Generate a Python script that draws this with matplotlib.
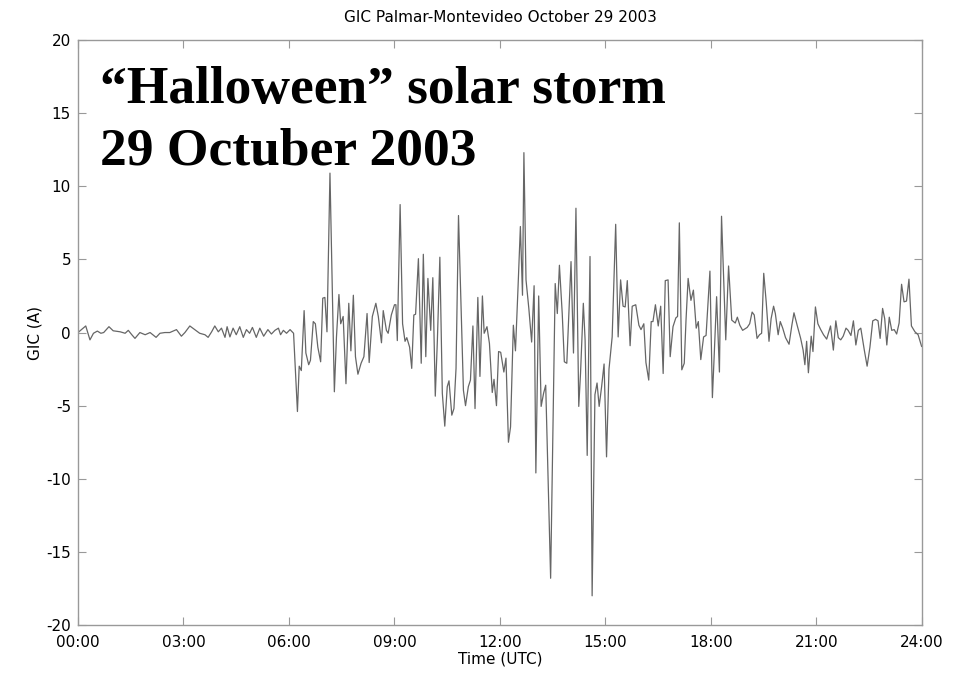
import matplotlib
matplotlib.use('Agg')
import matplotlib.pyplot as plt
from matplotlib.ticker import FuncFormatter

# Время (часы UTC) и ток GIC (А)
quiet_hours = [0.0, 0.22, 0.34, 0.44, 0.55, 0.65, 0.73, 0.88, 1.0, 1.2,
               1.34, 1.43, 1.53, 1.62, 1.76, 1.91, 2.05, 2.22, 2.33, 2.47,
               2.61, 2.8, 2.94, 3.04, 3.18, 3.32, 3.46, 3.61, 3.7, 3.8,
               3.89, 3.99, 4.08, 4.18, 4.24, 4.32, 4.41, 4.5, 4.6, 4.7,
               4.79, 4.88, 4.96, 5.07, 5.17, 5.28, 5.4, 5.5, 5.6, 5.7,
               5.76, 5.84, 5.93, 6.03, 6.13]
quiet_gic = [0.0, 0.45, -0.5, -0.05, 0.1, -0.05, 0.0, 0.4, 0.12, 0.05,
             -0.05, 0.15, -0.15, -0.4, 0.0, -0.15, 0.0, -0.33, -0.05, 0.0,
             0.0, 0.2, -0.25, 0.0, 0.45, 0.2, -0.05, -0.15, -0.33, 0.05,
             0.45, 0.05, 0.3, -0.33, 0.4, -0.3, 0.3, -0.15, 0.4, -0.33,
             0.2, -0.05, 0.35, -0.33, 0.3, -0.25, 0.2, -0.1, 0.15, 0.3,
             -0.15, 0.15, -0.05, 0.2, -0.05]

storm_hours = [6.24, 6.29, 6.35, 6.43, 6.48, 6.56, 6.61, 6.69, 6.75, 6.82,
               6.9, 6.96, 7.02, 7.08, 7.165, 7.29, 7.35, 7.42, 7.47, 7.54,
               7.62, 7.7, 7.76, 7.83, 7.89, 7.96, 8.05, 8.13, 8.22, 8.28,
               8.37, 8.47, 8.54, 8.63, 8.68, 8.77, 8.82, 8.91, 9.0, 9.04,
               9.08, 9.16, 9.23, 9.3, 9.35, 9.43, 9.49, 9.55, 9.6, 9.68,
               9.76, 9.82, 9.89, 9.95, 10.03, 10.09, 10.16, 10.22, 10.29, 10.36,
               10.43, 10.5, 10.55, 10.63, 10.69, 10.75, 10.82, 10.96, 11.02, 11.1,
               11.16, 11.23, 11.29, 11.37, 11.43, 11.5, 11.55, 11.63, 11.7, 11.78,
               11.83, 11.9, 11.96, 12.02, 12.11, 12.17, 12.24, 12.3, 12.38, 12.44,
               12.51, 12.58, 12.64, 12.68, 12.74, 12.82, 12.9, 12.97, 13.02, 13.1,
               13.17, 13.24, 13.3, 13.44, 13.57, 13.63, 13.69, 13.77, 13.83, 13.9,
               14.02, 14.09, 14.16, 14.24, 14.29, 14.37, 14.42, 14.48, 14.56, 14.62,
               14.7, 14.76, 14.82, 14.89, 14.96, 15.03, 15.1, 15.19, 15.29, 15.36,
               15.43, 15.5, 15.56, 15.62, 15.7, 15.76, 15.86, 15.95, 16.01, 16.09,
               16.15, 16.23, 16.3, 16.35, 16.42, 16.5, 16.57, 16.64, 16.7, 16.78,
               16.84, 16.92, 17.0, 17.05, 17.1, 17.17, 17.24, 17.29, 17.35, 17.43,
               17.5, 17.58, 17.64, 17.71, 17.79, 17.86, 17.97, 18.04, 18.09, 18.16,
               18.24, 18.3, 18.42, 18.5]
storm_gic = [-5.4, -2.3, -2.6, 1.5, -1.4, -2.2, -1.9, 0.75, 0.6, -1.0,
             -2.0, 2.35, 2.4, 0.05, 10.9, -4.05, -0.3, 2.6, 0.6, 1.1,
             -3.5, 2.0, -1.25, 2.55, -1.65, -2.85, -2.1, -1.65, 1.3, -2.05,
             1.1, 2.0, 1.1, -0.7, 1.5, 0.15, -0.05, 1.2, 1.9, 1.9,
             -0.55, 8.75, 0.6, -0.6, -0.35, -1.0, -2.45, 1.2, 1.25, 5.05,
             -2.1, 5.35, -1.65, 3.7, 0.15, 3.75, -4.35, -0.5, 5.15, -4.15,
             -6.4, -3.7, -3.3, -5.65, -5.2, -2.45, 8.0, -3.95, -5.0, -3.7,
             -3.25, 0.45, -5.2, 2.4, -3.0, 2.5, -0.05, 0.4, -0.75, -4.1,
             -3.2, -5.0, -1.3, -1.35, -2.7, -1.75, -7.5, -6.45, 0.5, -1.25,
             2.9, 7.25, 2.55, 12.3, 3.6, 1.65, -0.65, 3.2, -9.6, 2.5,
             -5.05, -4.15, -3.6, -16.8, 3.35, 1.3, 4.6, 1.3, -2.0, -2.1,
             4.85, -1.4, 8.5, -5.05, -2.8, 2.0, -0.5, -8.4, 5.2, -18.0,
             -4.25, -3.45, -5.05, -3.7, -2.15, -8.5, -2.5, -0.3, 7.4, -0.3,
             3.6, 1.8, 1.75, 3.55, -0.9, 1.8, 1.9, 0.5, 0.2, 0.6,
             -2.05, -3.25, 0.75, 0.75, 1.9, 0.45, 1.8, -2.8, 3.55, 3.6,
             -1.65, 0.4, 1.0, 1.1, 7.5, -2.55, -2.1, 0.85, 3.7, 2.2,
             2.9, 0.3, 0.75, -1.85, -0.3, -0.2, 4.2, -4.45, -1.65, 2.45,
             -2.7, 7.95, -0.5, 4.55]

late_hours = [18.59, 18.69, 18.75, 18.82, 18.9, 19.03, 19.1, 19.17, 19.23, 19.31,
              19.38, 19.44, 19.5, 19.57, 19.65, 19.71, 19.78, 19.83, 19.91, 19.97,
              20.04, 20.12, 20.22, 20.3, 20.36, 20.45, 20.55, 20.62, 20.67, 20.72,
              20.77, 20.85, 20.9, 20.97, 21.04, 21.12, 21.2, 21.29, 21.4, 21.48,
              21.55, 21.62, 21.69, 21.76, 21.84, 21.9, 21.98, 22.05, 22.12, 22.19,
              22.26, 22.36, 22.44, 22.52, 22.6, 22.68, 22.75, 22.81, 22.88, 22.94,
              23.0, 23.07, 23.14, 23.21, 23.28, 23.35, 23.42, 23.49, 23.56, 23.63,
              23.7, 23.8, 23.89, 23.99]
late_gic = [0.85, 0.65, 1.05, 0.5, 0.15, 0.35, 0.6, 1.4, 1.2, -0.4,
            -0.15, -0.05, 4.05, 2.1, -0.6, 0.95, 1.8, 1.3, -0.15, 0.75,
            0.3, -0.35, -0.8, 0.5, 1.35, 0.5, -0.4, -1.2, -2.2, -0.6,
            -2.75, -0.25, -1.3, 1.75, 0.6, 0.2, -0.15, -0.45, 0.45, -1.2,
            0.8, -0.35, -0.5, -0.25, 0.3, 0.15, -0.2, 0.8, -0.85, 0.15,
            0.3, -1.2, -2.3, -1.0, 0.8, 0.9, 0.8, -0.4, 1.65, 0.95,
            -0.85, 1.05, 0.15, 0.2, -0.1, 0.65, 3.3, 2.1, 2.15, 3.65,
            0.45, 0.05, -0.15, -0.95]

hours = quiet_hours + storm_hours + late_hours
gic = quiet_gic + storm_gic + late_gic

x_ticks = [0, 3, 6, 9, 12, 15, 18, 21, 24]
y_ticks = [-20, -15, -10, -5, 0, 5, 10, 15, 20]


def hhmm(x, pos):
    return f"{int(round(x)):02d}:00"


plt.rcParams['axes.unicode_minus'] = False

fig = plt.figure(figsize=(9.63, 6.75), dpi=100)
ax = fig.add_axes([0.081, 0.074, 0.8764, 0.8667])

ax.plot(hours, gic, color='#666666', linewidth=0.9)

ax.set_xlim(0, 24)
ax.set_ylim(-20, 20)
ax.set_xticks(x_ticks)
ax.set_yticks(y_ticks)
ax.xaxis.set_major_formatter(FuncFormatter(hhmm))
ax.tick_params(direction='in', top=True, right=True, length=6,
               color='#999999', labelsize=11)
ax.tick_params(axis='x', pad=7)
ax.tick_params(axis='y', pad=5)
for spine in ax.spines.values():
    spine.set_color('#999999')
    spine.set_linewidth(1.0)

ax.set_title('GIC Palmar-Montevideo October 29 2003', fontsize=11, pad=13)
ax.set_xlabel('Time (UTC)', fontsize=11, labelpad=1)
ax.set_ylabel('GIC (A)', fontsize=11, labelpad=3)

# Надпись поверх графика
fig.text(0.104, 0.8474, '\u201cHalloween\u201d solar storm',
         fontsize=38.5, fontweight='bold', family='Liberation Serif',
         va='baseline', ha='left')
fig.text(0.104, 0.7556, '29 Octuber 2003',
         fontsize=38.5, fontweight='bold', family='Liberation Serif',
         va='baseline', ha='left')

fig.savefig('out.png', dpi=100)
